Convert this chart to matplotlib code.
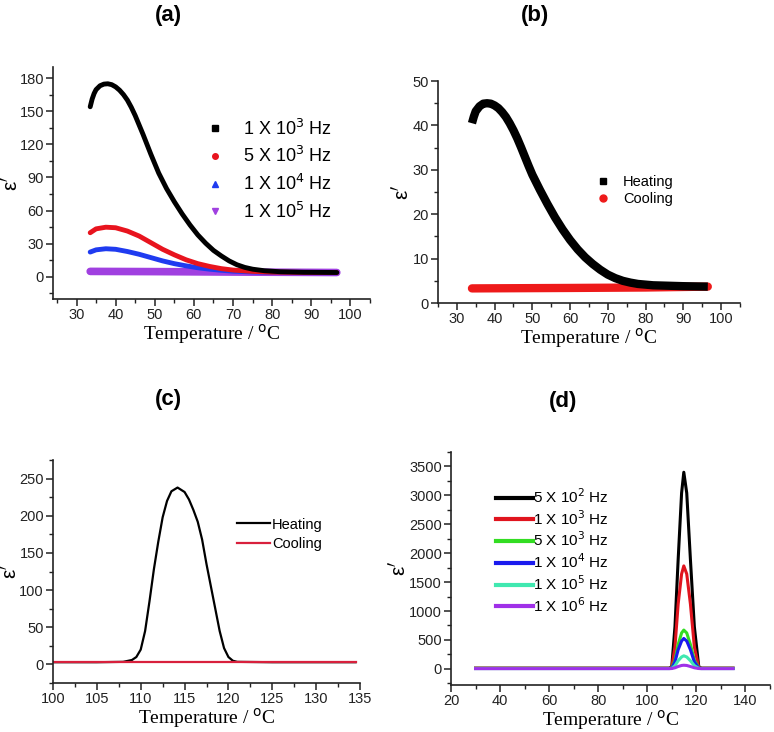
import matplotlib
matplotlib.use('Agg')
import matplotlib.pyplot as plt
from matplotlib.lines import Line2D
from matplotlib.ticker import MultipleLocator

plt.rcParams['font.family'] = ['Liberation Sans', 'DejaVu Sans']

# (a) epsilon' vs T at several frequencies
a_t_1k = [33.5, 34, 34.5, 35, 36, 37, 38, 39, 40, 41, 42, 43, 44, 45, 47, 49, 51, 53,
          55, 57, 59, 61, 63, 65, 67, 69, 71, 73, 75, 78, 82, 88, 96.5]
a_e_1k = [154, 161, 166, 169.5, 173, 174.5, 174.8, 174, 172, 169, 165, 160, 153.5, 146,
          129, 111, 94, 80, 68, 57, 47, 38, 30.5, 24, 19, 14.5, 11, 8.6, 7, 5.6, 4.7,
          4.2, 4]
a_t_5k = [33.5, 35, 37.5, 40, 43, 46, 49, 52, 55, 58, 61, 64, 67, 70, 75, 80, 90, 96.5]
a_e_5k = [40, 43.5, 45, 44.5, 41.5, 37, 31, 25, 20, 15.5, 12, 9.5, 7.5, 6.2, 5, 4.3, 4, 3.9]
a_t_10k = [33.5, 35, 37.5, 40, 43, 46, 49, 52, 55, 58, 61, 64, 67, 70, 75, 80, 96.5]
a_e_10k = [22.5, 24.5, 25.5, 25, 23, 20.5, 17.5, 14.5, 12, 10, 8.3, 7, 6, 5.2, 4.5, 4.1, 3.8]
a_t_100k = [33.5, 50, 70, 96.5]
a_e_100k = [5.0, 4.8, 4.4, 4.0]
a_labels = ['1 X 10$^3$ Hz', '5 X 10$^3$ Hz', '1 X 10$^4$ Hz', '1 X 10$^5$ Hz']

# (b) heating / cooling at one frequency
b_t_heat = [34, 34.5, 35, 36, 37, 38, 39, 40, 41, 42, 43, 44, 45, 46, 47, 48, 49, 50, 52,
            54, 56, 58, 60, 62, 64, 66, 68, 70, 72, 74, 76, 78, 82, 90, 96.5]
b_e_heat = [40.5, 42, 43.2, 44.3, 44.9, 45, 44.9, 44.5, 43.9, 43, 41.9, 40.5, 38.9, 37.1,
            35.1, 33, 30.9, 28.9, 25.5, 22.3, 19.3, 16.6, 14.2, 12.1, 10.3, 8.8, 7.5, 6.4,
            5.6, 5, 4.6, 4.3, 4, 3.8, 3.7]
b_t_cool = [34, 60, 80, 96.5]
b_e_cool = [3.3, 3.4, 3.5, 3.7]

# (c) heating / cooling around the transition
c_t_heat = [100, 105, 108, 109, 109.5, 110, 110.5, 111, 111.5, 112, 112.5, 113, 113.5,
            114.2, 115, 115.5, 116, 116.5, 117, 117.5, 118, 118.5, 119, 119.5, 120, 120.5,
            121, 125, 134.5]
c_e_heat = [3, 3, 3.5, 6, 10, 20, 45, 85, 128, 165, 198, 220, 233, 238, 232, 222, 208,
            192, 168, 135, 105, 75, 45, 22, 10, 5, 3.5, 3, 3]
c_t_cool = [100, 134.5]
c_e_cool = [3, 3]

# (d) peaks at six frequencies
d_t = [30, 109, 110, 111.3, 112.6, 114, 114.9, 116.1, 117.6, 119.2, 121, 122, 135]
d_e_500 = [10, 10, 40, 730, 1890, 3040, 3400, 3040, 1890, 730, 40, 10, 10]
d_e_1k = [10, 10, 25, 380, 1120, 1640, 1780, 1640, 1120, 380, 25, 10, 10]
d_e_5k = [8, 8, 15, 150, 420, 620, 670, 620, 420, 150, 15, 8, 8]
d_e_10k = [6, 6, 12, 120, 330, 480, 525, 480, 330, 120, 12, 6, 6]
d_e_100k = [4, 4, 8, 55, 140, 205, 225, 205, 140, 55, 8, 4, 4]
d_e_1m = [3, 3, 5, 18, 40, 58, 62, 58, 40, 18, 5, 3, 3]
d_labels = ['5 X 10$^2$ Hz', '1 X 10$^3$ Hz', '5 X 10$^3$ Hz', '1 X 10$^4$ Hz',
            '1 X 10$^5$ Hz', '1 X 10$^6$ Hz']

fig = plt.figure(figsize=(7.74, 7.32), dpi=100)

xlab = 'Temperature / $^{\\mathrm{o}}$C'


def style_axis(ax, xmaj, ymaj, ylab_x):
    for s in ['top', 'right']:
        ax.spines[s].set_visible(False)
    for s in ['left', 'bottom']:
        ax.spines[s].set_linewidth(1.2)
        ax.spines[s].set_color('#222222')
    ax.xaxis.set_major_locator(MultipleLocator(xmaj))
    ax.xaxis.set_minor_locator(MultipleLocator(xmaj / 2))
    ax.yaxis.set_major_locator(MultipleLocator(ymaj))
    ax.yaxis.set_minor_locator(MultipleLocator(ymaj / 2))
    ax.tick_params(which='major', direction='out', length=5, width=1.1, labelsize=10.5,
                   colors='#222222', pad=1.5)
    ax.tick_params(which='minor', direction='out', length=3, width=1.0, colors='#222222')
    ax.set_xlabel(xlab, family='Liberation Serif', fontsize=14, labelpad=0)
    ax.set_ylabel("ε$'$", fontsize=15)
    ax.yaxis.set_label_coords(ylab_x, 0.5)


# ---- (a)
ax = fig.add_axes([0.0685, 0.5915, 0.4096, 0.317])
cols_a = ['black', '#e8141e', '#1f3bf0', '#a040e0']
ax.plot(a_t_100k, a_e_100k, color=cols_a[3], lw=5.5, solid_capstyle='round')
ax.plot(a_t_10k, a_e_10k, color=cols_a[2], lw=3.5, solid_capstyle='round',
        solid_joinstyle='round')
ax.plot(a_t_5k, a_e_5k, color=cols_a[1], lw=3.5, solid_capstyle='round',
        solid_joinstyle='round')
ax.plot(a_t_1k, a_e_1k, color=cols_a[0], lw=3.5, solid_capstyle='round',
        solid_joinstyle='round')
ax.set_xlim(24, 105)
ax.set_ylim(-20, 190)
style_axis(ax, 10, 30, -0.10)
marks = ['s', 'o', '^', 'v']
hs = [Line2D([], [], ls='none', marker=m, color=c, markersize=4) for m, c in zip(marks, cols_a)]
ax.legend(hs, a_labels, loc='upper left', bbox_to_anchor=(0.476, 0.778), frameon=False,
          fontsize=13, handletextpad=0.97, labelspacing=0.42, handlelength=1.2,
          borderpad=0, borderaxespad=0)
fig.text(0.217, 0.979, '(a)', ha='center', va='center', fontsize=16, fontweight='bold')

# ---- (b)
ax = fig.add_axes([0.5659, 0.586, 0.390, 0.3033])
ax.plot(b_t_cool, b_e_cool, color='#ee1a1a', lw=6, solid_capstyle='round')
ax.plot(b_t_heat, b_e_heat, color='black', lw=6, solid_capstyle='butt',
        solid_joinstyle='round')
ax.set_xlim(25, 105)
ax.set_ylim(0, 50)
style_axis(ax, 10, 10, -0.086)
hs = [Line2D([], [], ls='none', marker='s', color='black', markersize=5),
      Line2D([], [], ls='none', marker='o', color='#ee1a1a', markersize=5)]
ax.legend(hs, ['Heating', 'Cooling'], loc='upper left', bbox_to_anchor=(0.517, 0.576),
          frameon=False, fontsize=10.5, handletextpad=0.77, labelspacing=0.22,
          handlelength=1.2, borderpad=0, borderaxespad=0)
fig.text(0.691, 0.979, '(b)', ha='center', va='center', fontsize=16, fontweight='bold')

# ---- (c)
ax = fig.add_axes([0.0685, 0.0669, 0.3966, 0.3046])
ax.plot(c_t_heat, c_e_heat, color='black', lw=1.6)
ax.plot(c_t_cool, c_e_cool, color='#d8203c', lw=1.6)
ax.set_xlim(100, 135)
ax.set_ylim(-25, 275)
style_axis(ax, 5, 50, -0.105)
ax.legend(['Heating', 'Cooling'], loc='upper left', bbox_to_anchor=(0.599, 0.742),
          frameon=False, fontsize=10.5, handletextpad=0.15, labelspacing=0.35,
          handlelength=2.26, borderpad=0, borderaxespad=0)
fig.text(0.217, 0.454, '(c)', ha='center', va='center', fontsize=16, fontweight='bold')

# ---- (d)
ax = fig.add_axes([0.5827, 0.0642, 0.412, 0.3183])
cols_d = ['black', '#e0141e', '#33dd22', '#1a1aee', '#40e8b0', '#a030e8']
series_d = [d_e_500, d_e_1k, d_e_5k, d_e_10k, d_e_100k, d_e_1m]
for e, c, lab in zip(series_d, cols_d, d_labels):
    ax.plot(d_t, e, color=c, lw=2.2, label=lab)
ax.set_xlim(20, 150)
ax.set_ylim(-280, 3750)
style_axis(ax, 20, 500, -0.129)
ax.legend(loc='upper left', bbox_to_anchor=(0.141, 0.849), frameon=False, fontsize=11,
          handletextpad=0.0, labelspacing=0.2, handlelength=2.4, borderpad=0,
          borderaxespad=0)
for l in ax.get_legend().get_lines():
    l.set_linewidth(3)
fig.text(0.727, 0.451, '(d)', ha='center', va='center', fontsize=16, fontweight='bold')

fig.savefig('out.png', dpi=100)
